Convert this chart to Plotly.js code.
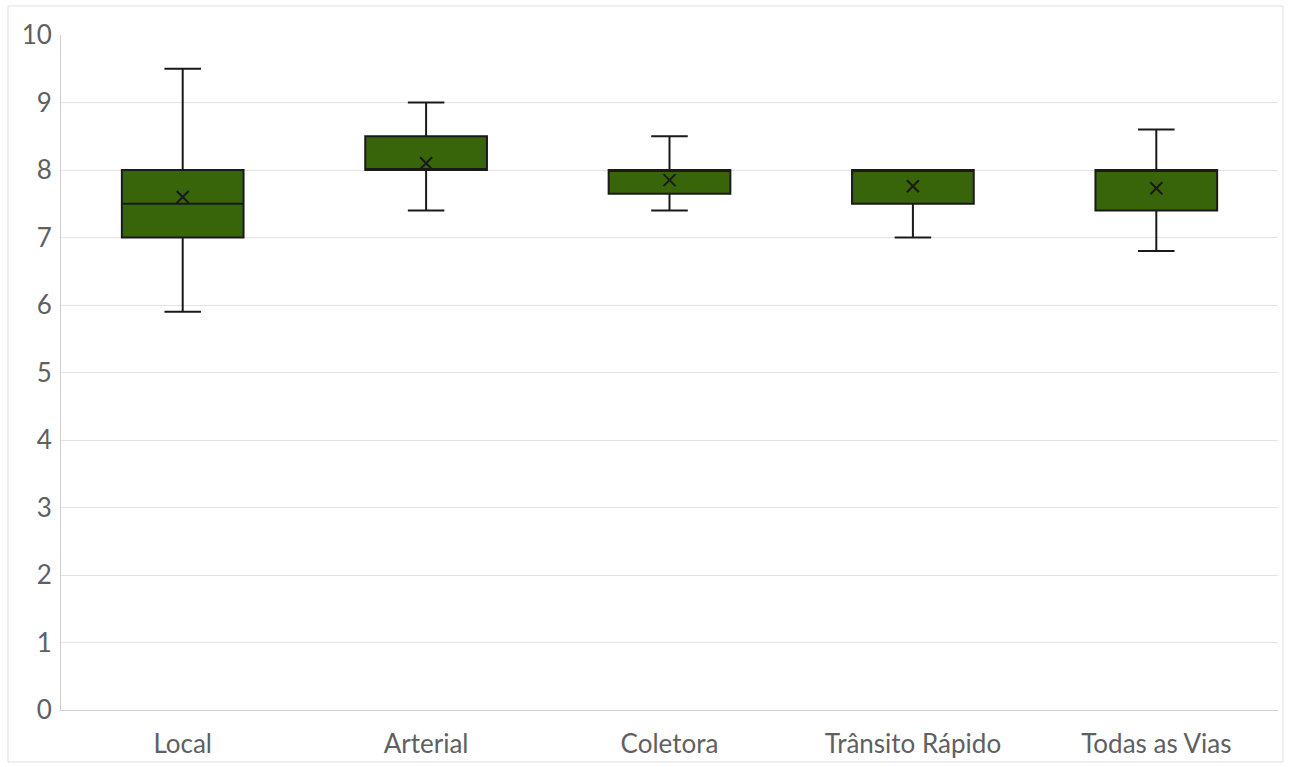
<!DOCTYPE html>
<html>
<head>
<meta charset="utf-8">
<script src="https://cdn.plot.ly/plotly-3.0.1.min.js"></script>
<style>html,body{margin:0;padding:0;background:#fff;}#chart{width:1291px;height:767px;}</style>
</head>
<body>
<div id="chart"></div>
<script>
const categories = ["Local", "Arterial", "Coletora", "Trânsito Rápido", "Todas as Vias"];
const lowerWhisker = [5.9, 7.4, 7.4, 7.0, 6.8];
const q1Values = [7.0, 8.0, 7.65, 7.5, 7.4];
const medianValues = [7.5, 8.0, 8.0, 8.0, 8.0];
const q3Values = [8.0, 8.5, 8.0, 8.0, 8.0];
const upperWhisker = [9.5, 9.0, 8.5, 8.0, 8.6];
const meanValues = [7.6, 8.1, 7.85, 7.76, 7.73];
const yTicks = [0, 1, 2, 3, 4, 5, 6, 7, 8, 9, 10];

const boxTrace = {
  type: 'box',
  x: categories,
  q1: q1Values,
  median: medianValues,
  q3: q3Values,
  lowerfence: lowerWhisker,
  upperfence: upperWhisker,
  fillcolor: '#38640A',
  line: {color: '#1a1a1a', width: 2},
  whiskerwidth: 0.3,
  boxpoints: false,
  hoverinfo: 'skip',
  showlegend: false
};

const meanTrace = {
  type: 'scatter',
  mode: 'markers',
  x: categories,
  y: meanValues,
  marker: {symbol: 'x-thin', size: 12, line: {color: '#1a1a1a', width: 2}},
  hoverinfo: 'skip',
  showlegend: false
};

const layout = {
  width: 1291, height: 767,
  margin: {l: 61, r: 13, t: 35, b: 57},
  paper_bgcolor: '#ffffff',
  plot_bgcolor: '#ffffff',
  font: {family: 'Lato, "Open Sans", sans-serif', size: 26, color: '#606060'},
  boxgap: 0.5,
  boxgroupgap: 0,
  xaxis: {
    type: 'category',
    showgrid: false,
    showline: true, linecolor: '#d0d0d0', linewidth: 1,
    ticks: 'outside', ticklen: 11, tickcolor: 'rgba(0,0,0,0)',
    tickfont: {size: 26, color: '#606060'},
    fixedrange: true
  },
  yaxis: {
    range: [0, 10],
    tickvals: yTicks,
    ticktext: yTicks.map(String),
    showgrid: true, gridcolor: '#e3e3e3', gridwidth: 1,
    zeroline: false,
    showline: true, linecolor: '#d0d0d0', linewidth: 1,
    ticks: 'outside', ticklen: 3, tickcolor: 'rgba(0,0,0,0)',
    tickfont: {size: 26, color: '#606060'},
    fixedrange: true
  },
  shapes: [{
    type: 'rect', xref: 'paper', yref: 'paper',
    x0: -0.0436, x1: 1.0041, y0: -0.077, y1: 1.043,
    line: {color: '#e0e0e0', width: 1}, fillcolor: 'rgba(0,0,0,0)', layer: 'below'
  }]
};

Plotly.newPlot('chart', [boxTrace, meanTrace], layout, {displayModeBar: false, staticPlot: true});
</script>
</body>
</html>
